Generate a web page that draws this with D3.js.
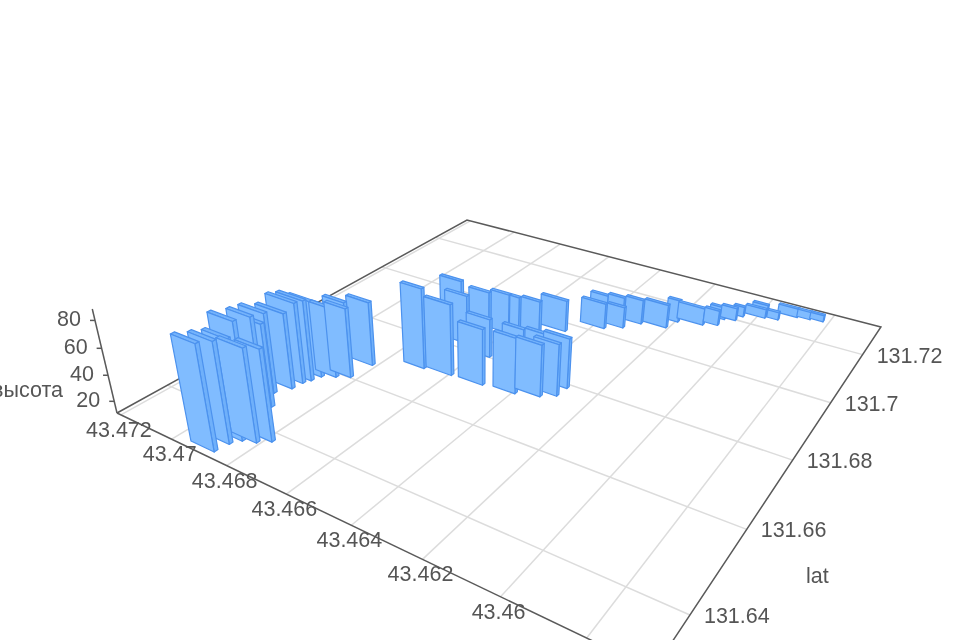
<!DOCTYPE html>
<html><head><meta charset="utf-8">
<script src="https://cdn.jsdelivr.net/npm/d3@7"></script>
<style>html,body{margin:0;padding:0;background:#fff;overflow:hidden}svg{display:block;filter:blur(0.6px)}text{font-family:"Liberation Sans",Arial,sans-serif;fill:#555}</style>
</head><body>
<svg id="c" width="960" height="640"></svg>
<script>
const lonStart=[43.46953,43.46947,43.46930,43.46899,43.46863,43.46986,43.46974,43.46990,43.47033,43.47019,43.47016,43.46999,43.46991,43.46932,43.46896,43.46931,43.46894,
43.46751,43.46680,43.46793,43.46738,43.46703,43.46640,43.46571,43.46657,43.46593,43.46560,43.46542,43.46462,43.46406,43.46367,43.46366,43.46479,43.46416,
43.46446,43.46442,43.46375,43.46395,43.46340,43.46285,43.46232,43.46206,43.46128,43.46128,43.46096,43.46070,43.46041,43.46030,43.45974,43.45956,43.45897,43.45859];
const lonEnd=[43.46868,43.46861,43.46844,43.46808,43.46779,43.46896,43.46889,43.46895,43.46939,43.46915,43.46910,43.46900,43.46890,43.46855,43.46820,43.46853,43.46812,
43.46678,43.46591,43.46715,43.46659,43.46631,43.46558,43.46489,43.46591,43.46560,43.46495,43.46453,43.46390,43.46325,43.46289,43.46285,43.46410,43.46353,
43.46363,43.46382,43.46317,43.46340,43.46282,43.46207,43.46192,43.46120,43.46081,43.46078,43.46047,43.46036,43.45976,43.45981,43.45938,43.45893,43.45855,43.45817];
const latValues=[131.6306,131.6334,131.6352,131.6361,131.6377,131.6396,131.6428,131.6451,131.6485,131.6514,131.6538,131.6553,131.6573,131.6587,131.6601,131.6621,131.6656,
131.6700,131.6708,131.6853,131.6820,131.6868,131.6801,131.6712,131.6899,131.6904,131.6911,131.6967,131.6720,131.6736,131.6754,131.6786,131.6765,131.6776,
131.7020,131.7053,131.7043,131.7071,131.7078,131.7091,131.7126,131.7142,131.7157,131.7188,131.7196,131.7220,131.7239,131.7259,131.7246,131.7278,131.7283,131.7289];
const heights=[88,85,84.6,79.7,78.3,85,83,73.6,72.2,68.9,73,73,68.6,64.8,64.8,63.7,61,
73.7,66.5,53,50,47,41.5,54.5,43,42,42,36.4,54,51,51,49.7,50.9,50,
31.6,31.7,28,30,30.8,29.9,29,24.7,23,20.5,21,19,18,18,17,18,17,16];
const lonTicks=[43.472,43.47,43.468,43.466,43.464,43.462,43.46,43.458];
const lonTickLabels=["43.472","43.47","43.468","43.466","43.464","43.462","43.46"];
const latTicks=[131.64,131.66,131.68,131.7,131.72];
const latTickLabels=["131.64","131.66","131.68","131.7","131.72"];
const zTicks=[20,40,60,80];
const lonDomain=[43.47216,43.45658], latDomain=[131.6292,131.7331], zDomain=[10.8,88];
const latLabel="lat", zLabel="высота";

// floor coordinates
const sScale=d3.scaleLinear().domain(lonDomain).range([0,1]);
const tScale=d3.scaleLinear().domain(latDomain).range([0,1]);
const wScale=d3.scaleLinear().domain(zDomain).range([0,1]);
// perspective camera matrix (unit cube to screen)
const P=[[344,563.7,-30.56,117],[59.7,-92.3,-123.6,413],[-0.2945,0.4577,-0.0634,1]];
function project(lon,lat,z){
  const v=[sScale(lon),tScale(lat),wScale(z),1];
  const r=P.map(row=>d3.sum(row,(c,i)=>c*v[i]));
  return [r[0]/r[2],r[1]/r[2]];
}
const svg=d3.select("#c");
const line=d3.line();
const zB=zDomain[0], zT=zDomain[1];
const [lon0,lon1]=lonDomain,[lat0,lat1]=latDomain;
// grid
const grid=svg.append("g").attr("stroke","#dcdcdc").attr("stroke-width",1.5).attr("fill","none");
lonTicks.forEach(v=>grid.append("path").attr("d",line([project(v,lat0,zB),project(v,lat1,zB)])));
latTicks.forEach(v=>grid.append("path").attr("d",line([project(lon0,v,zB),project(lon1,v,zB)])));
// frame
const frame=svg.append("g").attr("stroke","#5a5a5a").attr("stroke-width",1.5).attr("fill","none");
frame.append("path").attr("d",line([project(lon0,lat0,zB),project(lon0,lat1,zB),project(lon1,lat1,zB),project(lon1,lat0,zB)]));
frame.append("path").attr("d",line([project(lon0,lat0,zB),project(lon1,lat0,zB)]));
frame.append("path").attr("d",line([project(lon0,lat0,zB),project(lon0,lat0,zT)]));
zTicks.forEach(v=>{const p=project(lon0,lat0,v);frame.append("path").attr("d",line([p,[p[0]-5,p[1]]]));});
// bars
const depth=0.0008;
const bars=lonStart.map((a,i)=>({a,b:lonEnd[i],lat:latValues[i],h:heights[i]}));
const camDepth=d=>{const v=[sScale((d.a+d.b)/2),tScale(d.lat+depth/2),0,1];return d3.sum(P[2],(c,i)=>c*v[i]);};
bars.sort((x,y)=>camDepth(y)-camDepth(x));
const gb=svg.append("g").attr("stroke","#4c92ee").attr("stroke-width",1.2).attr("stroke-linejoin","round");
bars.forEach(d=>{
  const la=d.lat,lb=d.lat+depth;
  const poly=(pts,fill)=>gb.append("path").attr("d",line(pts)+"Z").attr("fill",fill);
  poly([project(d.b,la,zB),project(d.b,lb,zB),project(d.b,lb,d.h),project(d.b,la,d.h)],"#6fb0fa");
  poly([project(d.a,la,d.h),project(d.b,la,d.h),project(d.b,lb,d.h),project(d.a,lb,d.h)],"#74b3fb");
  poly([project(d.a,la,zB),project(d.b,la,zB),project(d.b,la,d.h),project(d.a,la,d.h)],"#80bcff");
});
// labels
const fs=21.5;
const lab=svg.append("g").attr("font-size",fs);
lonTickLabels.forEach((s,i)=>{const p=project(lonTicks[i],lat0,zB);lab.append("text").attr("x",p[0]-2).attr("y",p[1]+15).attr("text-anchor","middle").attr("dominant-baseline","central").text(s);});
latTicks.forEach((v,i)=>{const p=project(lon1,v,zB);lab.append("text").attr("x",p[0]+14).attr("y",p[1]+1).attr("dominant-baseline","central").text(latTickLabels[i]);});
zTicks.forEach(v=>{const p=project(lon0,lat0,v);lab.append("text").attr("x",p[0]-14).attr("y",p[1]-1).attr("text-anchor","end").attr("dominant-baseline","central").text(v);});
lab.append("text").attr("x",806).attr("y",576).attr("dominant-baseline","central").text(latLabel);
lab.append("text").attr("x",63).attr("y",390).attr("text-anchor","end").attr("dominant-baseline","central").text(zLabel);
</script>
</body></html>
